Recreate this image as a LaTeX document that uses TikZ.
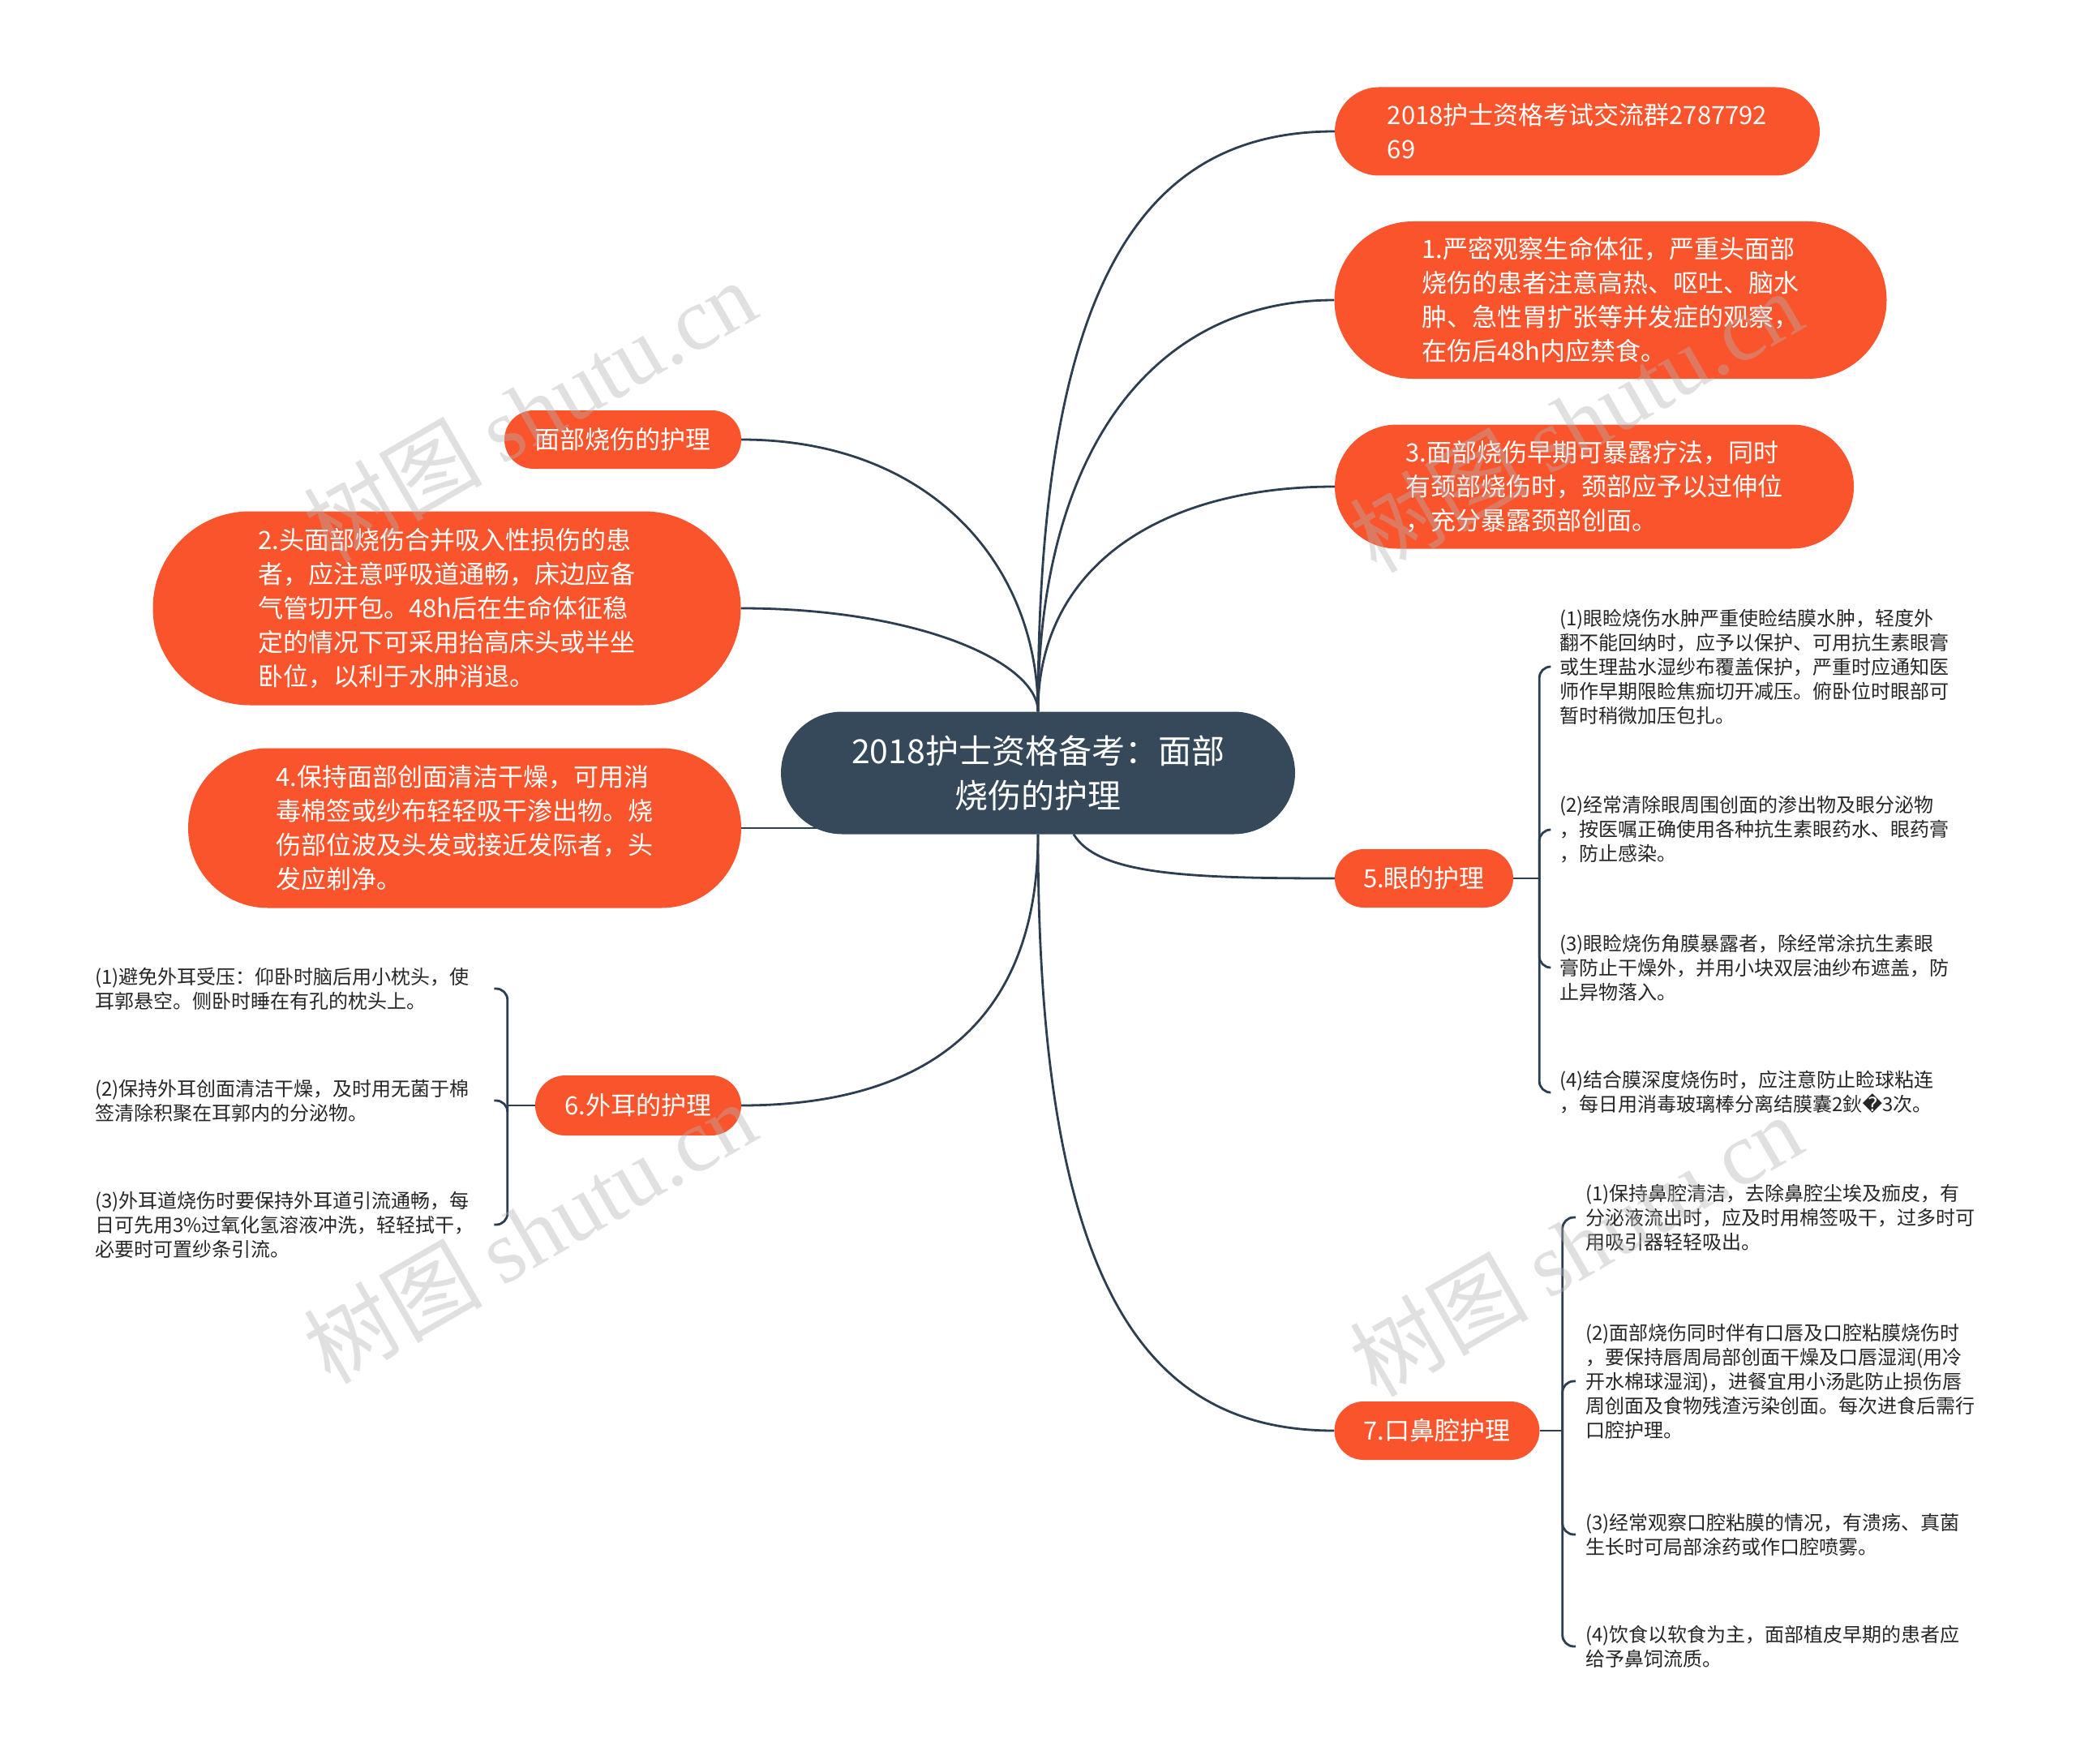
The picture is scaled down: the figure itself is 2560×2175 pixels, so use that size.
\documentclass[tikz,border=0pt]{standalone}
\usepackage{fontspec}
\setmainfont{Noto Sans CJK SC}
\newfontfamily\wmfont{Liberation Serif}
\newfontfamily\dejavu{DejaVu Sans}
\usetikzlibrary{backgrounds}
\definecolor{burnorange}{RGB}{250,84,44}
\definecolor{slatenode}{RGB}{54,73,90}
\definecolor{linkslate}{RGB}{44,62,80}
\tikzset{
  topic/.style={rectangle, fill=slatenode, text=white, align=center, inner sep=0pt,
    font=\fontsize{41pt}{55pt}\selectfont},
  pill/.style 2 args={minimum width=#1, minimum height=#2, rounded corners=#2/2},
  branch/.style={rectangle, fill=burnorange, text=white, align=left, inner sep=0pt,
    font=\fontsize{31pt}{42pt}\selectfont},
  leaf/.style={align=left, inner sep=0pt, text=black!85,
    font=\fontsize{24pt}{30pt}\selectfont},
  link/.style={draw=linkslate, line width=2.8pt},
  hook/.style={link, rounded corners=14pt},
  stamp/.style={text=gray!60, opacity=0.4, rotate=30,
    font=\fontsize{110pt}{110pt}\selectfont},
}

\begin{document}
\begin{tikzpicture}[x=1pt,y=-1pt]
  \useasboundingbox (0,0) rectangle (2560,2175);

  % Central topic
  \node[topic, pill={634pt}{151pt}] (main) at (1280,953)
    {2018护士资格备考：面部\\烧伤的护理};

  % Right branches
  \node[branch, pill={598pt}{109pt}] (qun) at (1945,162)
    {2018护士资格考试交流群2787792\\69};
  \node[branch, pill={681pt}{194pt}] (n1) at (1986,370)
    {1.严密观察生命体征，严重头面部\\烧伤的患者注意高热、呕吐、脑水\\肿、急性胃扩张等并发症的观察，\\在伤后48h内应禁食。};
  \node[branch, pill={640pt}{153pt}] (n3) at (1966,600)
    {3.面部烧伤早期可暴露疗法，同时\\有颈部烧伤时，颈部应予以过伸位\\，充分暴露颈部创面。};
  \node[branch, pill={220pt}{72pt}] (n5) at (1756,1083) {5.眼的护理};
  \node[branch, pill={253pt}{72pt}] (n7) at (1772,1764) {7.口鼻腔护理};

  % Left branches
  \node[branch, pill={292pt}{72pt}] (mianbu) at (768,542) {面部烧伤的护理};
  \node[branch, pill={725pt}{239pt}] (n2) at (551,750)
    {2.头面部烧伤合并吸入性损伤的患\\者，应注意呼吸道通畅，床边应备\\气管切开包。48h后在生命体征稳\\定的情况下可采用抬高床头或半坐\\卧位，以利于水肿消退。};
  \node[branch, pill={682pt}{197pt}] (n4) at (573,1021)
    {4.保持面部创面清洁干燥，可用消\\毒棉签或纱布轻轻吸干渗出物。烧\\伤部位波及头发或接近发际者，头\\发应剃净。};
  \node[branch, pill={254pt}{74pt}] (n6) at (787,1363) {6.外耳的护理};

  % Eye leaves
  \node[leaf, anchor=west] (e1) at (1923,822)
    {(1)眼睑烧伤水肿严重使睑结膜水肿，轻度外\\翻不能回纳时，应予以保护、可用抗生素眼膏\\或生理盐水湿纱布覆盖保护，严重时应通知医\\师作早期限睑焦痂切开减压。俯卧位时眼部可\\暂时稍微加压包扎。};
  \node[leaf, anchor=west] (e2) at (1923,1023)
    {(2)经常清除眼周围创面的渗出物及眼分泌物\\，按医嘱正确使用各种抗生素眼药水、眼药膏\\，防止感染。};
  \node[leaf, anchor=west] (e3) at (1923,1193)
    {(3)眼睑烧伤角膜暴露者，除经常涂抗生素眼\\膏防止干燥外，并用小块双层油纱布遮盖，防\\止异物落入。};
  \node[leaf, anchor=west] (e4) at (1923,1347)
    {(4)结合膜深度烧伤时，应注意防止睑球粘连\\，每日用消毒玻璃棒分离结膜囊2鈥{\dejavu �}3次。};

  % Mouth and nose leaves
  \node[leaf, anchor=west] (m1) at (1955,1501)
    {(1)保持鼻腔清洁，去除鼻腔尘埃及痂皮，有\\分泌液流出时，应及时用棉签吸干，过多时可\\用吸引器轻轻吸出。};
  \node[leaf, anchor=west] (m2) at (1955,1703)
    {(2)面部烧伤同时伴有口唇及口腔粘膜烧伤时\\，要保持唇周局部创面干燥及口唇湿润(用冷\\开水棉球湿润)，进餐宜用小汤匙防止损伤唇\\周创面及食物残渣污染创面。每次进食后需行\\口腔护理。};
  \node[leaf, anchor=west] (m3) at (1955,1892)
    {(3)经常观察口腔粘膜的情况，有溃疡、真菌\\生长时可局部涂药或作口腔喷雾。};
  \node[leaf, anchor=west] (m4) at (1955,2030)
    {(4)饮食以软食为主，面部植皮早期的患者应\\给予鼻饲流质。};

  % Ear leaves
  \node[leaf, anchor=west, text width=480pt] (r1) at (117,1219)
    {(1)避免外耳受压：仰卧时脑后用小枕头，使\\耳郭悬空。侧卧时睡在有孔的枕头上。};
  \node[leaf, anchor=west, text width=480pt] (r2) at (117,1357)
    {(2)保持外耳创面清洁干燥，及时用无菌于棉\\签清除积聚在耳郭内的分泌物。};
  \node[leaf, anchor=west, text width=480pt] (r3) at (117,1510)
    {(3)外耳道烧伤时要保持外耳道引流通畅，每\\日可先用3\%过氧化氢溶液冲洗，轻轻拭干，\\必要时可置纱条引流。};

  % Bracket junctions
  \coordinate (j5) at ([xshift=32pt]n5.east);
  \coordinate (j7) at ([xshift=28pt]n7.east);
  \coordinate (j6) at ([xshift=-34pt]n6.west);

  \begin{scope}[on background layer]
    \fill[white] (0,0) rectangle (2560,2175);

    % Curved links from the centre
    \draw[link] (main.north) .. controls +(0,-548) and +(-226,0) .. (qun.west);
    \draw[link] (main.north) .. controls +(0,-318) and +(-226,0) .. (n1.west);
    \draw[link] (main.north) .. controls +(0,-178) and +(-216,0) .. (n3.west);
    \draw[link] (main.north) .. controls +(0,-178) and +(236,0) .. (mianbu.east);
    \draw[link] (main.north) .. controls +(0,-60) and +(220,0) .. (n2.east);
    \draw[link] (n4.east) -- (n4.east -| main.center);
    \draw[link] ([xshift=44pt]main.south) .. controls +(30,50) and +(-180,0) .. (n5.west);
    \draw[link] (main.south) .. controls +(0,230) and +(230,0) .. (n6.east);
    \draw[link] (main.south) .. controls +(0,570) and +(-226,0) .. (n7.west);

    % Brackets to the leaves
    \draw[link] (n5.east) -- (j5);
    \foreach \k in {e1,e2,e3,e4}
      \draw[hook] (j5) |- ([xshift=-12pt]\k.west);
    \draw[link] (n7.east) -- (j7);
    \foreach \k in {m1,m2,m3,m4}
      \draw[hook] (j7) |- ([xshift=-12pt]\k.west);
    \draw[link] (n6.west) -- (j6);
    \foreach \k in {r1,r2,r3}
      \draw[hook] (j6) |- ([xshift=12pt]\k.east);
  \end{scope}

  % Watermarks
  \node[stamp] (wm1) at (653,506) {树图 {\wmfont shutu.cn}};
  \node[stamp] (wm2) at (1943,519) {树图 {\wmfont shutu.cn}};
  \node[stamp] (wm3) at (653,1519) {树图 {\wmfont shutu.cn}};
  \node[stamp] (wm4) at (1943,1535) {树图 {\wmfont shutu.cn}};
\end{tikzpicture}
\end{document}
